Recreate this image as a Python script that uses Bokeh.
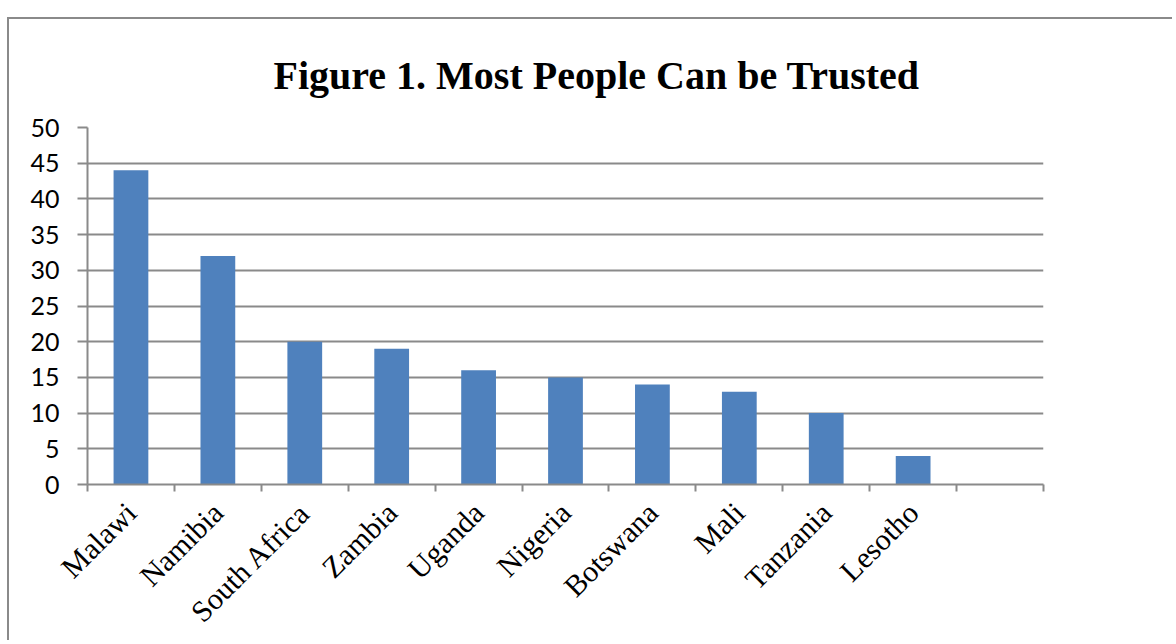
from math import pi
from bokeh.plotting import figure
from bokeh.models import Range1d, LinearAxis, FixedTicker
from bokeh.embed import file_html
from bokeh.resources import INLINE

# ---- data ----
countries = ["Malawi", "Namibia", "South Africa", "Zambia", "Uganda",
             "Nigeria", "Botswana", "Mali", "Tanzania", "Lesotho"]
values = [44, 32, 20, 19, 16, 15, 14, 13, 10, 4]
n_slots = 11  # 10 countries + one empty slot at the end
y_ticks = [0, 5, 10, 15, 20, 25, 30, 35, 40, 45, 50]
title_text = "Figure 1. Most People Can be Trusted"

x_pos = [i + 0.5 for i in range(len(countries))]
slot_edges = list(range(n_slots + 1))
GRAY = "#8a8a8a"
BAR = "#4F81BD"

p = figure(width=1165, height=623,
           x_range=Range1d(0, n_slots), y_range=Range1d(y_ticks[0], y_ticks[-1]),
           output_backend="svg", toolbar_location=None, x_axis_location=None,
           title=title_text,
           min_border_left=78, min_border_right=131,
           min_border_top=108, min_border_bottom=157)

p.styles = {"border-left": "2px solid " + GRAY, "border-top": "2px solid " + GRAY,
            "margin-left": "7px", "margin-top": "17px"}

p.outline_line_color = None
p.background_fill_color = "white"
p.border_fill_color = "white"

p.title.text_font = "Liberation Serif"
p.title.text_font_style = "bold"
p.title.text_font_size = "40px"
p.title.text_color = "black"
p.title.align = "left"
p.title.offset = 186
p.title.standoff = 60

p.vbar(x=x_pos, top=values, width=0.4, bottom=0, fill_color=BAR, line_color=None)

p.xgrid.visible = False
p.ygrid.grid_line_color = GRAY
p.ygrid.grid_line_width = 2
p.ygrid.ticker = FixedTicker(ticks=y_ticks)

ya = p.yaxis[0]
ya.ticker = FixedTicker(ticks=y_ticks)
ya.axis_line_color = GRAY
ya.axis_line_width = 2
ya.major_tick_line_color = GRAY
ya.major_tick_line_width = 2
ya.major_tick_out = 10
ya.major_tick_in = 0
ya.minor_tick_line_color = None
ya.major_label_text_font = "Lato"
ya.major_label_text_font_size = "25px"
ya.major_label_text_color = "black"
ya.major_label_standoff = 18

x_axis = LinearAxis(ticker=FixedTicker(ticks=x_pos, minor_ticks=slot_edges),
                    major_label_overrides={x: c for x, c in zip(x_pos, countries)},
                    major_label_orientation=pi / 4,
                    axis_line_color=GRAY, axis_line_width=2,
                    major_tick_line_color=None, major_tick_out=7, major_tick_in=0,
                    minor_tick_line_color=GRAY, minor_tick_line_width=2,
                    minor_tick_out=7, minor_tick_in=0,
                    major_label_text_font="Liberation Serif",
                    major_label_text_font_size="30px",
                    major_label_text_color="black",
                    major_label_standoff=16)
p.add_layout(x_axis, "below")

open("out.html", "w").write(file_html(p, INLINE))
